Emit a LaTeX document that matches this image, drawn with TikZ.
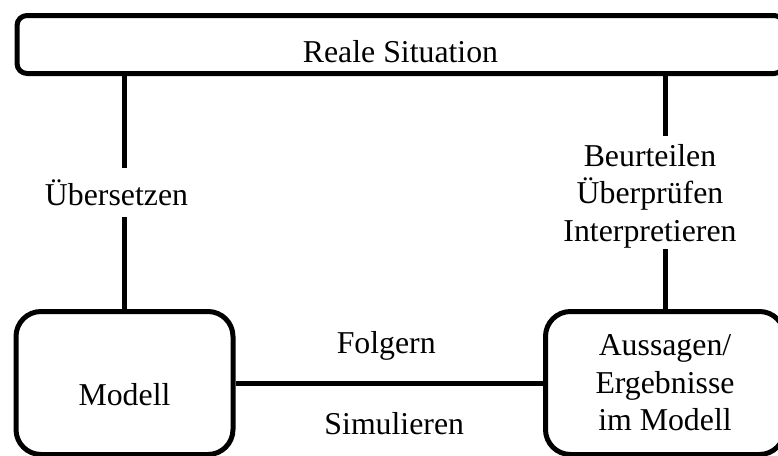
\documentclass[tikz,border=0pt]{standalone}
\usepackage{fontspec}
\setmainfont{Liberation Serif}
\usetikzlibrary{positioning}

\begin{document}
\begin{tikzpicture}[x=1pt, y=-1pt,
  font=\fontsize{31.8}{37.5}\selectfont,
  line width=5pt,
  situation/.style={draw, rounded corners=10pt, minimum width=767pt, minimum height=58pt,
    inner sep=0pt, text height=36pt, text depth=0pt},
  box/.style={draw, rounded corners=25pt, minimum height=143pt, align=center, inner sep=0pt},
  verb/.style={fill=white, inner xsep=4pt, inner ysep=11pt, align=center},
  flow/.style={inner sep=0pt}
  ]
  \useasboundingbox (0,0) rectangle (778,455);
  \node[situation] (real) at (400.5,44.5) {Reale Situation};
  \node[box, minimum width=217pt, text height=44pt, text depth=0pt] (modell) at (124.5,383) {Modell};
  \node[box, minimum width=239pt] (aussagen) at (665,383) {Aussagen/\\Ergebnisse\\im Modell};
  \draw (modell.north |- real.south) -- node[verb, xshift=-8pt] (uebersetzen) {Übersetzen} (modell.north);
  \draw (aussagen.north |- real.south) -- node[verb, xshift=-15pt, text depth=0pt, inner ysep=8pt] (beurteilen)
    {Beurteilen\\Überprüfen\\Interpretieren} (aussagen.north);
  \draw (modell) -- node[flow, above=20pt, xshift=-3pt] (folgern) {Folgern}
    node[flow, below=27pt, xshift=5pt] (simulieren) {Simulieren} (aussagen);
\end{tikzpicture}
\end{document}
